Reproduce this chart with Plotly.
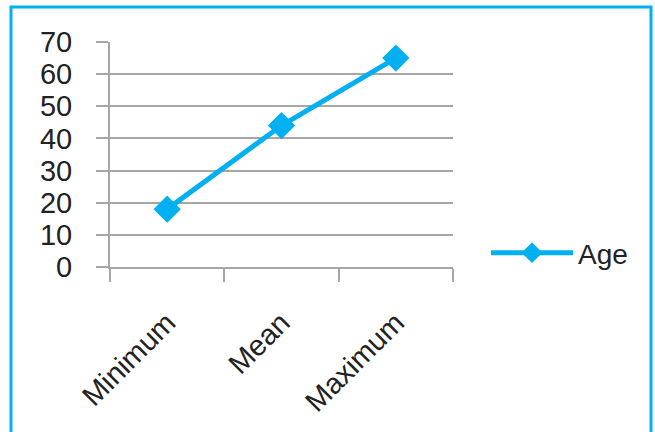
import plotly.graph_objects as go

# Age summary statistics
categories = ["Minimum", "Mean", "Maximum"]
age_values = [18, 44, 65]
y_ticks = [0, 10, 20, 30, 40, 50, 60, 70]

BLUE = "#00B0F0"
GRAY = "#A6A6A6"
FONT = "Liberation Sans, Arial, sans-serif"

W, H = 655, 432
L, R, T, B = 110, 202, 42, 165
pw = W - L - R
ph = H - T - B

fig = go.Figure()
fig.add_trace(go.Scatter(
    x=categories, y=age_values, name="Age", mode="lines+markers",
    line=dict(color=BLUE, width=5),
    marker=dict(symbol="diamond", size=21, color=BLUE),
))

def px_x(v):
    return (v - L) / pw

def px_y(v):
    return (H - B - v) / ph

fig.update_layout(
    width=W, height=H,
    margin=dict(l=L, r=R, t=T, b=B),
    paper_bgcolor="white", plot_bgcolor="white",
    font=dict(family=FONT, size=28, color="#222222"),
    showlegend=True,
    legend=dict(
        x=px_x(486), y=px_y(253), xanchor="left", yanchor="middle",
        itemwidth=82, font=dict(size=28, color="#222222"),
        bgcolor="rgba(0,0,0,0)",
    ),
    xaxis=dict(
        type="category", range=[-0.5, 2.5], tickson="boundaries",
        showline=True, linecolor=GRAY, linewidth=2,
        ticks="outside", ticklen=13, tickwidth=2, tickcolor=GRAY,
        showgrid=False, tickangle=-45, ticklabelstandoff=25,
        tickfont=dict(size=29, color="#222222"),
    ),
    yaxis=dict(
        range=[0, 70], tickvals=y_ticks, ticktext=[str(v) for v in y_ticks],
        showline=True, linecolor=GRAY, linewidth=2,
        ticks="outside", ticklen=12, tickwidth=2, tickcolor=GRAY,
        showgrid=True, gridcolor=GRAY, gridwidth=2,
        zeroline=False, ticklabelstandoff=18,
        tickfont=dict(size=29, color="#222222"),
    ),
    shapes=[dict(
        type="rect", xref="paper", yref="paper",
        x0=px_x(11), x1=px_x(651), y0=px_y(445), y1=px_y(7),
        line=dict(color=BLUE, width=3), fillcolor="rgba(0,0,0,0)",
        layer="below",
    )],
)

fig.write_html("out.html")
